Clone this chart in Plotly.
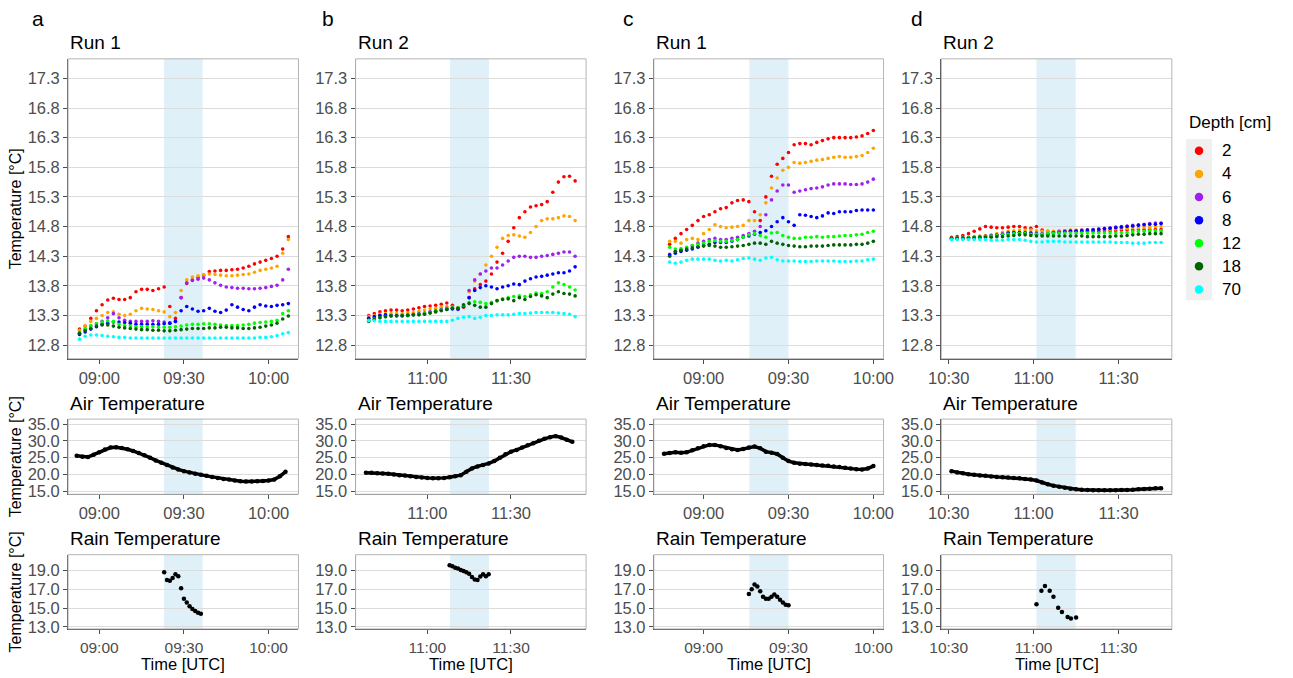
import plotly.graph_objects as go
import pandas as pd

W, H = 1293, 678
DAY = "2021-06-01 "
FONT = "Liberation Sans, Arial, sans-serif"

DEPTHS = ["2", "4", "6", "8", "12", "18", "70"]
COLORS = ["#ff0000", "#ffa500", "#a020f0", "#0000ff", "#00ff00", "#006400", "#00ffff"]

# ---------------- Panel a (Run 1) ----------------
a_soil_start, a_soil_step = "08:53", 2
a_d2 = [13.07, 13.12, 13.25, 13.38, 13.48, 13.56, 13.59, 13.57, 13.57, 13.6,
        13.7, 13.74, 13.74, 13.72, 13.75, 13.78, 13.45, 13.25, 13.6, 13.84,
        13.9, 13.94, 13.98, 14.04, 14.05, 14.06, 14.06, 14.07, 14.08, 14.1,
        14.13, 14.17, 14.2, 14.23, 14.26, 14.3, 14.42, 14.63]
a_d4 = [13.05, 13.12, 13.2, 13.25, 13.3, 13.35, 13.36, 13.32, 13.3, 13.32,
        13.38, 13.42, 13.41, 13.4, 13.38, 13.36, 13.28, 13.35, 13.72, 13.9,
        13.95, 13.97, 13.99, 14.0, 13.99, 13.98, 13.97, 13.97, 13.98, 13.99,
        14.0, 14.03, 14.06, 14.08, 14.1, 14.13, 14.35, 14.58]
a_d6 = [13.0, 13.06, 13.12, 13.16, 13.2, 13.26, 13.33, 13.26, 13.22, 13.2,
        13.2, 13.2, 13.2, 13.21, 13.2, 13.19, 13.17, 13.2, 13.6, 13.85,
        13.89, 13.91, 13.93, 13.9, 13.85, 13.81, 13.78, 13.77, 13.76, 13.76,
        13.75, 13.75, 13.76, 13.77, 13.79, 13.81, 13.9, 14.08]
a_d8 = [12.98, 13.02, 13.07, 13.11, 13.15, 13.17, 13.19, 13.19, 13.18, 13.17,
        13.15, 13.15, 13.15, 13.15, 13.15, 13.16, 13.17, 13.2, 13.38, 13.45,
        13.41, 13.37, 13.38, 13.42, 13.37, 13.35, 13.39, 13.48, 13.44, 13.4,
        13.38, 13.44, 13.48, 13.46, 13.45, 13.47, 13.48, 13.5]
a_d12 = [13.02, 13.08, 13.13, 13.16, 13.19, 13.21, 13.2, 13.15, 13.13, 13.12,
         13.11, 13.11, 13.11, 13.11, 13.1, 13.1, 13.1, 13.11, 13.12, 13.14,
         13.15, 13.15, 13.16, 13.16, 13.15, 13.14, 13.13, 13.13, 13.13, 13.14,
         13.15, 13.17, 13.18, 13.19, 13.2, 13.22, 13.33, 13.38]
a_d18 = [13.0, 13.04, 13.08, 13.12, 13.14, 13.14, 13.12, 13.1, 13.09, 13.08,
         13.07, 13.06, 13.06, 13.05, 13.05, 13.04, 13.04, 13.05, 13.06, 13.07,
         13.08, 13.08, 13.08, 13.09, 13.09, 13.1, 13.1, 13.09, 13.09, 13.08,
         13.08, 13.09, 13.1, 13.12, 13.14, 13.17, 13.24, 13.29]
a_d70 = [12.9, 12.95, 12.97, 12.97, 12.96, 12.95, 12.94, 12.93, 12.93, 12.92,
         12.92, 12.92, 12.92, 12.92, 12.92, 12.92, 12.92, 12.92, 12.92, 12.92,
         12.92, 12.92, 12.92, 12.92, 12.92, 12.92, 12.92, 12.92, 12.92, 12.92,
         12.92, 12.92, 12.93, 12.93, 12.94, 12.96, 12.99, 13.01]
a_air_start, a_air_step = "08:52", 2
a_air = [25.6, 25.3, 25.2, 25.9, 26.6, 27.4, 28.0, 28.1, 27.9, 27.5,
         27.0, 26.4, 25.7, 25.0, 24.2, 23.5, 22.8, 22.1, 21.5, 21.0,
         20.6, 20.2, 19.9, 19.6, 19.3, 19.0, 18.7, 18.5, 18.2, 18.0,
         17.9, 17.9, 18.0, 18.1, 18.2, 18.5, 19.5, 20.8]
a_rain_t = ["09:23", "09:24", "09:25", "09:26", "09:27", "09:28", "09:29",
            "09:30", "09:31", "09:32", "09:33", "09:34", "09:35", "09:36"]
a_rain = [18.8, 18.0, 17.9, 18.2, 18.6, 18.4, 17.1, 16.0, 15.6, 15.2, 14.9, 14.7, 14.5, 14.4]

# ---------------- Panel b (Run 2) ----------------
b_soil_start, b_soil_step = "10:39", 2
b_d2 = [13.30, 13.33, 13.36, 13.38, 13.39, 13.39, 13.38, 13.39, 13.41, 13.43,
        13.45, 13.46, 13.47, 13.49, 13.51, 13.47, 13.43, 13.44, 13.6, 13.75,
        13.82, 13.88, 14.0, 14.2, 14.35, 14.55, 14.78, 14.95, 15.05, 15.13,
        15.15, 15.17, 15.22, 15.38, 15.55, 15.64, 15.65, 15.57]
b_d4 = [13.28, 13.3, 13.32, 13.33, 13.33, 13.33, 13.33, 13.34, 13.35, 13.37,
        13.39, 13.41, 13.42, 13.44, 13.45, 13.44, 13.42, 13.45, 13.7, 13.88,
        14.0, 14.15, 14.3, 14.45, 14.6, 14.65, 14.66, 14.64, 14.62, 14.7,
        14.8, 14.9, 14.93, 14.93, 14.95, 14.98, 14.97, 14.9]
b_d6 = [13.25, 13.27, 13.29, 13.3, 13.3, 13.3, 13.3, 13.31, 13.32, 13.33,
        13.34, 13.36, 13.38, 13.4, 13.42, 13.42, 13.4, 13.45, 13.72, 13.9,
        14.0, 14.05, 14.1, 14.1, 14.15, 14.22, 14.28, 14.3, 14.3, 14.28,
        14.28, 14.3, 14.31, 14.33, 14.35, 14.37, 14.37, 14.3]
b_d8 = [13.25, 13.28, 13.3, 13.31, 13.3, 13.29, 13.29, 13.3, 13.31, 13.32,
        13.33, 13.35, 13.37, 13.39, 13.4, 13.41, 13.41, 13.45, 13.6, 13.72,
        13.77, 13.8, 13.78, 13.75, 13.78, 13.8, 13.83, 13.82, 13.88, 13.92,
        13.95, 13.96, 13.98, 14.0, 14.02, 14.02, 14.05, 14.12]
b_d12 = [13.22, 13.24, 13.26, 13.28, 13.29, 13.3, 13.3, 13.3, 13.31, 13.32,
         13.33, 13.35, 13.37, 13.39, 13.41, 13.43, 13.43, 13.47, 13.52, 13.53,
         13.52, 13.5, 13.52, 13.55, 13.58, 13.6, 13.62, 13.63, 13.62, 13.65,
         13.68, 13.67, 13.7, 13.78, 13.85, 13.82, 13.78, 13.73]
b_d18 = [13.2, 13.23, 13.26, 13.28, 13.29, 13.3, 13.3, 13.3, 13.31, 13.31,
         13.32, 13.34, 13.36, 13.38, 13.4, 13.42, 13.42, 13.48, 13.5, 13.47,
         13.44, 13.44, 13.5, 13.55, 13.57, 13.58, 13.55, 13.6, 13.57, 13.62,
         13.65, 13.63, 13.6, 13.66, 13.7, 13.67, 13.66, 13.63]
b_d70 = [13.21, 13.21, 13.2, 13.2, 13.2, 13.2, 13.2, 13.2, 13.2, 13.2,
         13.2, 13.2, 13.2, 13.2, 13.2, 13.22, 13.25, 13.27, 13.28, 13.25,
         13.27, 13.3, 13.3, 13.31, 13.31, 13.31, 13.32, 13.33, 13.33, 13.34,
         13.35, 13.35, 13.35, 13.35, 13.34, 13.33, 13.32, 13.28]
b_air_start, b_air_step = "10:38", 2
b_air = [20.5, 20.5, 20.4, 20.3, 20.2, 20.0, 19.8, 19.7, 19.5, 19.3,
         19.1, 19.0, 18.9, 18.9, 19.0, 19.2, 19.5, 19.8, 20.8, 21.8,
         22.4, 22.8, 23.3, 24.0, 25.0, 26.0, 26.8, 27.3, 28.0, 28.7,
         29.3, 30.0, 30.6, 31.1, 31.4, 31.0, 30.3, 29.7]
b_rain_t = ["11:08", "11:09", "11:10", "11:11", "11:12", "11:13", "11:14", "11:15",
            "11:16", "11:17", "11:18", "11:19", "11:20", "11:21", "11:22"]
b_rain = [19.55, 19.45, 19.3, 19.2, 19.05, 18.95, 18.8, 18.65, 18.3, 18.05, 18.0, 18.35, 18.6, 18.4, 18.6]

# ---------------- Panel c (Run 1) ----------------
c_soil_start, c_soil_step = "08:48", 2
c_d2 = [14.5, 14.6, 14.68, 14.75, 14.82, 14.9, 14.97, 15.0, 15.05, 15.1,
        15.12, 15.2, 15.24, 15.25, 15.22, 15.05, 14.9, 15.3, 15.65, 15.85,
        15.95, 16.05, 16.18, 16.2, 16.2, 16.18, 16.22, 16.25, 16.28, 16.3,
        16.3, 16.3, 16.3, 16.31, 16.33, 16.37, 16.42]
c_d4 = [14.55, 14.55, 14.52, 14.58, 14.6, 14.58, 14.68, 14.75, 14.83, 14.8,
        14.78, 14.79, 14.8, 14.82, 14.9, 14.9, 15.0, 15.2, 15.45, 15.62,
        15.75, 15.8, 15.88, 15.87, 15.88, 15.9, 15.92, 15.93, 15.95, 15.97,
        15.98, 15.97, 15.97, 15.98, 16.0, 16.05, 16.12]
c_d6 = [14.33, 14.38, 14.4, 14.42, 14.48, 14.52, 14.55, 14.58, 14.6, 14.58,
        14.58, 14.6, 14.62, 14.65, 14.68, 14.72, 14.8, 15.0, 15.25, 15.4,
        15.5, 15.5, 15.38, 15.4, 15.42, 15.44, 15.45, 15.47, 15.5, 15.52,
        15.52, 15.52, 15.51, 15.51, 15.52, 15.55, 15.6]
c_d8 = [14.32, 14.35, 14.38, 14.4, 14.42, 14.45, 14.48, 14.5, 14.53, 14.53,
        14.53, 14.55, 14.58, 14.62, 14.64, 14.67, 14.7, 14.73, 14.8, 14.88,
        14.95, 14.88, 14.82, 15.0, 14.99, 14.97, 14.95, 14.98, 15.03, 15.02,
        15.05, 15.05, 15.05, 15.07, 15.08, 15.08, 15.08]
c_d12 = [14.45, 14.42, 14.43, 14.45, 14.48, 14.5, 14.52, 14.55, 14.56, 14.55,
         14.55, 14.56, 14.58, 14.62, 14.66, 14.68, 14.65, 14.62, 14.69, 14.7,
         14.65, 14.62, 14.6, 14.6, 14.62, 14.62, 14.63, 14.62, 14.63, 14.63,
         14.64, 14.65, 14.65, 14.66, 14.67, 14.7, 14.72]
c_d18 = [14.3, 14.38, 14.4, 14.42, 14.44, 14.46, 14.47, 14.48, 14.47, 14.45,
         14.45, 14.46, 14.47, 14.48, 14.5, 14.52, 14.52, 14.5, 14.55, 14.52,
         14.5, 14.48, 14.47, 14.46, 14.46, 14.47, 14.47, 14.47, 14.48, 14.49,
         14.49, 14.49, 14.49, 14.5, 14.5, 14.52, 14.55]
c_d70 = [14.2, 14.18, 14.2, 14.23, 14.25, 14.25, 14.25, 14.25, 14.23, 14.22,
         14.23, 14.22, 14.24, 14.26, 14.27, 14.25, 14.23, 14.27, 14.28, 14.24,
         14.22, 14.22, 14.22, 14.21, 14.21, 14.21, 14.22, 14.22, 14.22, 14.22,
         14.21, 14.21, 14.21, 14.22, 14.22, 14.24, 14.25]
c_air_start, c_air_step = "08:46", 2
c_air = [26.2, 26.4, 26.6, 26.5, 26.6, 27.2, 27.8, 28.4, 28.8, 28.8,
         28.4, 27.9, 27.5, 27.3, 27.6, 28.0, 28.3, 27.8, 26.8, 26.5,
         26.1, 25.0, 24.0, 23.5, 23.2, 23.1, 23.0, 22.8, 22.7, 22.6,
         22.4, 22.2, 22.0, 21.8, 21.6, 21.5, 21.8, 22.5]
c_rain_t = ["09:16", "09:17", "09:18", "09:19", "09:20", "09:21", "09:22", "09:23",
            "09:24", "09:25", "09:26", "09:27", "09:28", "09:29", "09:30"]
c_rain = [16.5, 17.0, 17.5, 17.3, 16.8, 16.2, 16.0, 16.0, 16.2, 16.45, 16.2, 15.9, 15.6, 15.35, 15.3]

# ---------------- Panel d (Run 2) ----------------
d_soil_start, d_soil_step = "10:31", 2
d_d2 = [14.62, 14.63, 14.65, 14.68, 14.72, 14.76, 14.8, 14.79, 14.78, 14.78,
        14.79, 14.8, 14.8, 14.78, 14.77, 14.8, 14.74, 14.72, 14.71, 14.72,
        14.73, 14.73, 14.73, 14.72, 14.72, 14.72, 14.72, 14.73, 14.73, 14.73,
        14.74, 14.74, 14.74, 14.75, 14.75, 14.75, 14.75, 14.75]
d_d4 = [14.6, 14.61, 14.62, 14.62, 14.63, 14.64, 14.65, 14.66, 14.68, 14.7,
        14.72, 14.73, 14.74, 14.74, 14.74, 14.73, 14.72, 14.72, 14.72, 14.73,
        14.73, 14.74, 14.74, 14.74, 14.74, 14.75, 14.75, 14.75, 14.75, 14.76,
        14.77, 14.77, 14.78, 14.78, 14.79, 14.79, 14.8, 14.8]
d_d6 = [14.6, 14.6, 14.61, 14.61, 14.62, 14.63, 14.64, 14.65, 14.66, 14.67,
        14.68, 14.69, 14.7, 14.7, 14.7, 14.69, 14.68, 14.68, 14.7, 14.71,
        14.72, 14.73, 14.73, 14.74, 14.74, 14.75, 14.76, 14.77, 14.78, 14.79,
        14.8, 14.81, 14.82, 14.83, 14.84, 14.85, 14.86, 14.86]
d_d8 = [14.59, 14.6, 14.6, 14.61, 14.61, 14.62, 14.63, 14.64, 14.65, 14.67,
        14.69, 14.7, 14.7, 14.69, 14.68, 14.67, 14.66, 14.67, 14.69, 14.7,
        14.71, 14.72, 14.72, 14.73, 14.74, 14.74, 14.75, 14.76, 14.77, 14.78,
        14.79, 14.8, 14.81, 14.82, 14.83, 14.84, 14.84, 14.85]
d_d12 = [14.6, 14.6, 14.6, 14.61, 14.62, 14.62, 14.63, 14.64, 14.65, 14.66,
         14.67, 14.68, 14.68, 14.68, 14.67, 14.67, 14.67, 14.68, 14.68, 14.69,
         14.69, 14.69, 14.69, 14.69, 14.69, 14.69, 14.69, 14.69, 14.69, 14.69,
         14.7, 14.7, 14.71, 14.72, 14.72, 14.73, 14.73, 14.73]
d_d18 = [14.6, 14.6, 14.6, 14.6, 14.61, 14.61, 14.62, 14.62, 14.63, 14.63,
         14.64, 14.65, 14.66, 14.66, 14.65, 14.64, 14.64, 14.64, 14.64, 14.64,
         14.64, 14.64, 14.64, 14.64, 14.63, 14.63, 14.63, 14.63, 14.63, 14.64,
         14.64, 14.65, 14.66, 14.67, 14.67, 14.68, 14.68, 14.68]
d_d70 = [14.58, 14.58, 14.58, 14.58, 14.58, 14.58, 14.58, 14.57, 14.57, 14.57,
         14.58, 14.58, 14.58, 14.57, 14.55, 14.54, 14.54, 14.55, 14.55, 14.55,
         14.54, 14.54, 14.54, 14.54, 14.54, 14.54, 14.54, 14.54, 14.54, 14.53,
         14.53, 14.53, 14.52, 14.52, 14.52, 14.53, 14.53, 14.53]
d_air_start, d_air_step = "10:31", 2
d_air = [21.0, 20.6, 20.4, 20.1, 19.9, 19.7, 19.6, 19.4, 19.3, 19.2,
         19.1, 19.0, 18.9, 18.7, 18.5, 18.2, 17.6, 17.1, 16.7, 16.4,
         16.1, 15.8, 15.6, 15.5, 15.4, 15.3, 15.3, 15.3, 15.3, 15.3,
         15.4, 15.4, 15.5, 15.6, 15.7, 15.8, 15.9, 15.9]
d_rain_t = ["11:01:00", "11:02:45", "11:04:00", "11:05:40", "11:07:00",
            "11:08:40", "11:10:00", "11:12:00", "11:13:10", "11:15:00"]
d_rain = [15.4, 16.85, 17.35, 16.85, 16.2, 15.05, 14.6, 14.05, 13.9, 14.0]

# ---------------- titles / ticks ----------------
panel_letters = ["a", "b", "c", "d"]
run_titles = ["Run 1", "Run 2", "Run 1", "Run 2"]
shade_windows = [("09:22:55", "09:36:40"), ("11:08:10", "11:22:05"),
                 ("09:16:10", "09:30:00"), ("11:01:00", "11:14:50")]
x_ranges = [("08:48:57", "10:10:36"), ("10:34:17", "11:56:56"),
            ("08:42:24", "10:03:36"), ("10:27:24", "11:48:48")]
x_ticks = [["09:00", "09:30", "10:00"], ["11:00", "11:30"],
           ["09:00", "09:30", "10:00"], ["10:30", "11:00", "11:30"]]
soil_ticks = [12.8, 13.3, 13.8, 14.3, 14.8, 15.3, 15.8, 16.3, 16.8, 17.3]
air_ticks = [15.0, 20.0, 25.0, 30.0, 35.0]
rain_ticks = [13.0, 15.0, 17.0, 19.0]

panels = [
    dict(soil_start=a_soil_start, soil_step=a_soil_step,
         soil=[a_d2, a_d4, a_d6, a_d8, a_d12, a_d18, a_d70],
         air_start=a_air_start, air_step=a_air_step, air=a_air, rain_t=a_rain_t, rain=a_rain),
    dict(soil_start=b_soil_start, soil_step=b_soil_step,
         soil=[b_d2, b_d4, b_d6, b_d8, b_d12, b_d18, b_d70],
         air_start=b_air_start, air_step=b_air_step, air=b_air, rain_t=b_rain_t, rain=b_rain),
    dict(soil_start=c_soil_start, soil_step=c_soil_step,
         soil=[c_d2, c_d4, c_d6, c_d8, c_d12, c_d18, c_d70],
         air_start=c_air_start, air_step=c_air_step, air=c_air, rain_t=c_rain_t, rain=c_rain),
    dict(soil_start=d_soil_start, soil_step=d_soil_step,
         soil=[d_d2, d_d4, d_d6, d_d8, d_d12, d_d18, d_d70],
         air_start=d_air_start, air_step=d_air_step, air=d_air, rain_t=d_rain_t, rain=d_rain),
]

# ---------------- layout geometry (target picture pixels) ----------------
PANEL_X = [(72.7, 304.0), (361.3, 592.7), (660.7, 891.3), (949.3, 1180.7)]
ROW_Y = [(58, 361), (422, 498), (559, 634)]
Y_RANGES = [(12.57, 17.63), (14.12, 36.47), (12.79, 20.68)]
Y_TICKS = [soil_ticks, air_ticks, rain_ticks]

# measured mapping of page pixels to the photographed picture
PX_SX, PX_OX = 0.986, 17.4
PX_SY, PX_OY = 0.994, 2.6


def px_x(v):
    return ((v - PX_OX) / PX_SX) / W


def px_y(v):
    return 1 - ((v - PX_OY) / PX_SY) / H


def t(s):
    if s.count(":") == 1:
        s = s + ":00"
    return pd.Timestamp(DAY + s)


def grid(start, step, n):
    t0 = t(start)
    return [t0 + pd.Timedelta(minutes=step * i) for i in range(n)]


fig = go.Figure()
layout = dict(width=W, height=H, margin=dict(l=0, r=0, t=0, b=0), autosize=False,
              paper_bgcolor="white", plot_bgcolor="rgba(0,0,0,0)",
              font=dict(family=FONT), showlegend=False)
shapes = []
annotations = []

TICKFONT = dict(family=FONT, size=16.5, color="#4d4d4d")
XTICKFONT_BOTTOM = dict(family=FONT, size=15.5, color="#4d4d4d")

for p, pan in enumerate(panels):
    for r in range(3):
        k = r * 4 + p + 1
        xs = "" if k == 1 else str(k)
        xname, yname = "xaxis" + xs, "yaxis" + xs
        xref, yref = "x" + xs, "y" + xs
        x0, x1 = PANEL_X[p]
        y0, y1 = ROW_Y[r]
        layout[xname] = dict(
            domain=[px_x(x0), px_x(x1)], anchor=yref, type="date",
            range=[t(x_ranges[p][0]), t(x_ranges[p][1])],
            tickvals=[t(v) for v in x_ticks[p]], tickformat="%H:%M",
            showgrid=False, zeroline=False, showline=True, linecolor="#4d4d4d",
            linewidth=1, ticks="outside", ticklen=4, tickcolor="#4d4d4d",
            tickfont=XTICKFONT_BOTTOM if r == 2 else TICKFONT, fixedrange=True)
        layout[yname] = dict(
            domain=[px_y(y1), px_y(y0)], anchor=xref,
            range=list(Y_RANGES[r]), tickvals=Y_TICKS[r], tickformat=".1f",
            showgrid=True, gridcolor="#dcdcdc", gridwidth=1, zeroline=False,
            showline=True, linecolor="#4d4d4d", linewidth=1, ticks="outside",
            ticklen=4, tickcolor="#4d4d4d", tickfont=TICKFONT, fixedrange=True)
        # rain shading
        s0, s1 = shade_windows[p]
        shapes.append(dict(type="rect", xref=xref, yref=yref + " domain",
                           x0=t(s0), x1=t(s1), y0=0, y1=1,
                           fillcolor="#dff0f8", line=dict(width=0), layer="below"))
        # panel border (top/right lighter)
        shapes.append(dict(type="rect", xref=xref + " domain", yref=yref + " domain",
                           x0=0, x1=1, y0=0, y1=1, fillcolor="rgba(0,0,0,0)",
                           line=dict(color="#b5b5b5", width=1), layer="above"))
        if r == 0:
            for dname, col, vals in zip(DEPTHS, COLORS, pan["soil"]):
                fig.add_trace(go.Scatter(
                    x=grid(pan["soil_start"], pan["soil_step"], len(vals)), y=vals,
                    mode="markers", marker=dict(size=3.6, color=col, line=dict(width=0)),
                    xaxis=xref, yaxis=yref, hoverinfo="skip", name=dname))
        elif r == 1:
            fig.add_trace(go.Scatter(
                x=grid(pan["air_start"], pan["air_step"], len(pan["air"])), y=pan["air"],
                mode="lines+markers", line=dict(color="black", width=3.5),
                marker=dict(size=4.5, color="black", line=dict(width=0)),
                xaxis=xref, yaxis=yref, hoverinfo="skip"))
        else:
            fig.add_trace(go.Scatter(
                x=[t(v) for v in pan["rain_t"]], y=pan["rain"],
                mode="markers", marker=dict(size=4.5, color="black", line=dict(width=0)),
                xaxis=xref, yaxis=yref, hoverinfo="skip"))

    x0, x1 = PANEL_X[p]
    # panel letter
    annotations.append(dict(text=panel_letters[p], xref="paper", yref="paper",
                            x=px_x([42, 334, 635.5, 925][p]), y=px_y(17),
                            xanchor="center", yanchor="middle", showarrow=False,
                            font=dict(family=FONT, size=21, color="black")))
    # titles
    for title, yc in ((run_titles[p], 42), ("Air Temperature", 406.5), ("Rain Temperature", 543)):
        annotations.append(dict(text=title, xref="paper", yref="paper",
                                x=px_x(x0), y=px_y(yc), xanchor="left", yanchor="middle",
                                showarrow=False, font=dict(family=FONT, size=19, color="black")))
    annotations.append(dict(text="Time [UTC]", xref="paper", yref="paper",
                            x=px_x((x0 + x1) / 2), y=px_y(669), xanchor="center",
                            yanchor="middle", showarrow=False,
                            font=dict(family=FONT, size=16.5, color="black")))

# y-axis titles
for yc in ((ROW_Y[0][0] + ROW_Y[0][1]) / 2, (ROW_Y[1][0] + ROW_Y[1][1]) / 2,
           (ROW_Y[2][0] + ROW_Y[2][1]) / 2):
    annotations.append(dict(text="Temperature [°C]", xref="paper", yref="paper",
                            x=px_x(20), y=px_y(yc), xanchor="center", yanchor="middle",
                            textangle=-90, showarrow=False,
                            font=dict(family=FONT, size=16, color="black")))

# legend (drawn on its own small axis)
LEG_X = (1195, 1221)
LEG_Y = (139, 302)
shapes.append(dict(type="rect", xref="paper", yref="paper",
                   x0=px_x(LEG_X[0]), x1=px_x(LEG_X[1]), y0=px_y(LEG_Y[1]), y1=px_y(LEG_Y[0]),
                   fillcolor="#f0f0f0", line=dict(width=0), layer="below"))
layout["xaxis13"] = dict(domain=[px_x(LEG_X[0]), px_x(LEG_X[1])], anchor="y13",
                         range=[0, 1], visible=False, fixedrange=True)
layout["yaxis13"] = dict(domain=[px_y(LEG_Y[1]), px_y(LEG_Y[0])], anchor="x13",
                         range=[6.47, -0.514], visible=False, fixedrange=True)
fig.add_trace(go.Scatter(x=[0.5] * len(DEPTHS), y=list(range(len(DEPTHS))),
                         mode="markers", marker=dict(size=8.5, color=COLORS, line=dict(width=0)),
                         xaxis="x13", yaxis="y13", hoverinfo="skip"))
for i, dname in enumerate(DEPTHS):
    annotations.append(dict(text=dname, xref="paper", yref="y13", x=px_x(1229), y=i,
                            xanchor="left", yanchor="middle", showarrow=False,
                            font=dict(family=FONT, size=17, color="black")))
annotations.append(dict(text="Depth [cm]", xref="paper", yref="paper",
                        x=px_x(1196), y=px_y(122), xanchor="left", yanchor="middle",
                        showarrow=False, font=dict(family=FONT, size=17, color="black")))

layout["shapes"] = shapes
layout["annotations"] = annotations
fig.update_layout(**layout)
fig.write_html("out.html", config={"displayModeBar": False},
               post_script="document.body.style.margin='0px';")
